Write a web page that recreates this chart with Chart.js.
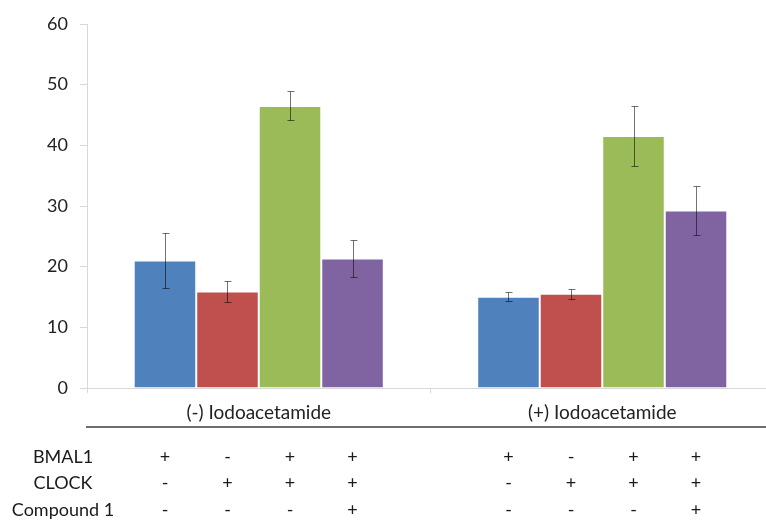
<!DOCTYPE html>
<html>
<head>
<meta charset="utf-8">
<script src="https://cdn.jsdelivr.net/npm/chart.js@4.4.1/dist/chart.umd.min.js"></script>
<style>
  html, body { margin: 0; padding: 0; background: #ffffff; }
  #wrap { width: 766px; height: 520px; overflow: hidden; }
  #chart { display: block; }
</style>
</head>
<body>
<div id="wrap"><canvas id="chart" width="774" height="520"></canvas></div>
<script>
// Groups along the x axis
const categories = ['(-) Iodoacetamide', '(+) Iodoacetamide'];

// Series: one bar per transfection condition in each group
const seriesNames = ['BMAL1', 'CLOCK', 'BMAL1 + CLOCK', 'BMAL1 + CLOCK + Compound 1'];
const bmal1Values    = [21.0, 15.05];
const clockValues    = [15.9, 15.55];
const bothValues     = [46.5, 41.55];
const compoundValues = [21.35, 29.25];

// Symmetric error bars (same order as the series above)
const bmal1Errors    = [4.5, 0.75];
const clockErrors    = [1.8, 0.8];
const bothErrors     = [2.4, 4.95];
const compoundErrors = [3.1, 4.0];

// Y axis ticks
const yTicks = [0, 10, 20, 30, 40, 50, 60];

// Condition table printed under the bars
const tableRows = ['BMAL1', 'CLOCK', 'Compound 1'];
const bmal1Marks    = ['+', '-', '+', '+'];
const clockMarks    = ['-', '+', '+', '+'];
const compoundMarks = ['-', '-', '-', '+'];

const seriesValues = [bmal1Values, clockValues, bothValues, compoundValues];
const seriesErrors = [bmal1Errors, clockErrors, bothErrors, compoundErrors];
const seriesColors = ['#4F81BD', '#C0504D', '#9BBB59', '#8064A2'];
const tableMarks = [bmal1Marks, clockMarks, compoundMarks];

const FONT = 'Lato, "Open Sans", "Liberation Sans", sans-serif';

// Error bars with small caps, drawn on top of each bar
const errorBars = {
  id: 'errorBars',
  afterDatasetsDraw(chart) {
    const ctx = chart.ctx;
    const y = chart.scales.y;
    ctx.save();
    ctx.strokeStyle = 'rgba(0,0,0,0.55)';
    ctx.lineWidth = 1;
    chart.data.datasets.forEach((ds, di) => {
      const meta = chart.getDatasetMeta(di);
      meta.data.forEach((bar, i) => {
        const v = ds.data[i];
        const e = seriesErrors[di][i];
        const x = Math.round(bar.x) + 0.5;
        const yTop = Math.round(y.getPixelForValue(v + e)) + 0.5;
        const yBot = Math.round(y.getPixelForValue(v - e)) + 0.5;
        ctx.beginPath();
        ctx.moveTo(x, yTop); ctx.lineTo(x, yBot);
        ctx.moveTo(x - 3, yTop); ctx.lineTo(x + 4, yTop);
        ctx.moveTo(x - 3, yBot); ctx.lineTo(x + 4, yBot);
        ctx.stroke();
      });
    });
    ctx.restore();
  }
};

// Divider line and +/- condition table below the x axis
const conditionTable = {
  id: 'conditionTable',
  afterDraw(chart) {
    const ctx = chart.ctx;
    const area = chart.chartArea;
    ctx.save();
    ctx.strokeStyle = '#6e6e6e';
    ctx.lineWidth = 2;
    ctx.beginPath();
    ctx.moveTo(area.left - 1, area.bottom + 39);
    ctx.lineTo(chart.width, area.bottom + 39);
    ctx.stroke();

    ctx.fillStyle = '#1a1a1a';
    ctx.font = '18px ' + FONT;
    ctx.textBaseline = 'middle';
    const rowY = [area.bottom + 69, area.bottom + 95.5, area.bottom + 122];
    tableRows.forEach((label, r) => {
      ctx.textAlign = 'center';
      ctx.fillText(label, area.left - 24, rowY[r]);
      chart.data.datasets.forEach((ds, di) => {
        const meta = chart.getDatasetMeta(di);
        meta.data.forEach((bar) => {
          ctx.fillText(tableMarks[r][di], bar.x, rowY[r]);
        });
      });
    });
    ctx.restore();
  }
};

new Chart(document.getElementById('chart'), {
  type: 'bar',
  data: {
    labels: categories,
    datasets: seriesNames.map((name, i) => ({
      label: name,
      data: seriesValues[i],
      backgroundColor: seriesColors[i],
      borderColor: 'rgba(255,255,255,0.12)',
      borderWidth: 1,
      categoryPercentage: 0.728,
      barPercentage: 1.0
    }))
  },
  options: {
    responsive: false,
    animation: false,
    layout: { padding: { top: 24, right: 0, left: 0, bottom: 0 } },
    plugins: { legend: { display: false }, tooltip: { enabled: false } },
    scales: {
      x: {
        grid: { display: true, drawOnChartArea: false, drawTicks: true, tickLength: 5, color: '#d9d9d9', offset: true },
        border: { display: true, color: '#d9d9d9', width: 1 },
        ticks: { color: '#222222', font: { family: FONT, size: 19 }, padding: 8, maxRotation: 0 },
        afterFit(scale) { scale.height = 132; }
      },
      y: {
        min: 0, max: 60,
        afterBuildTicks(scale) { scale.ticks = yTicks.map(v => ({ value: v })); },
        grid: { display: true, drawOnChartArea: false, drawTicks: true, tickLength: 7, color: '#d9d9d9' },
        border: { display: true, color: '#d9d9d9', width: 1 },
        ticks: { color: '#222222', font: { family: FONT, size: 18 }, padding: 12 },
        afterFit(scale) { scale.width = 87; }
      }
    }
  },
  plugins: [errorBars, conditionTable]
});
</script>
</body>
</html>
